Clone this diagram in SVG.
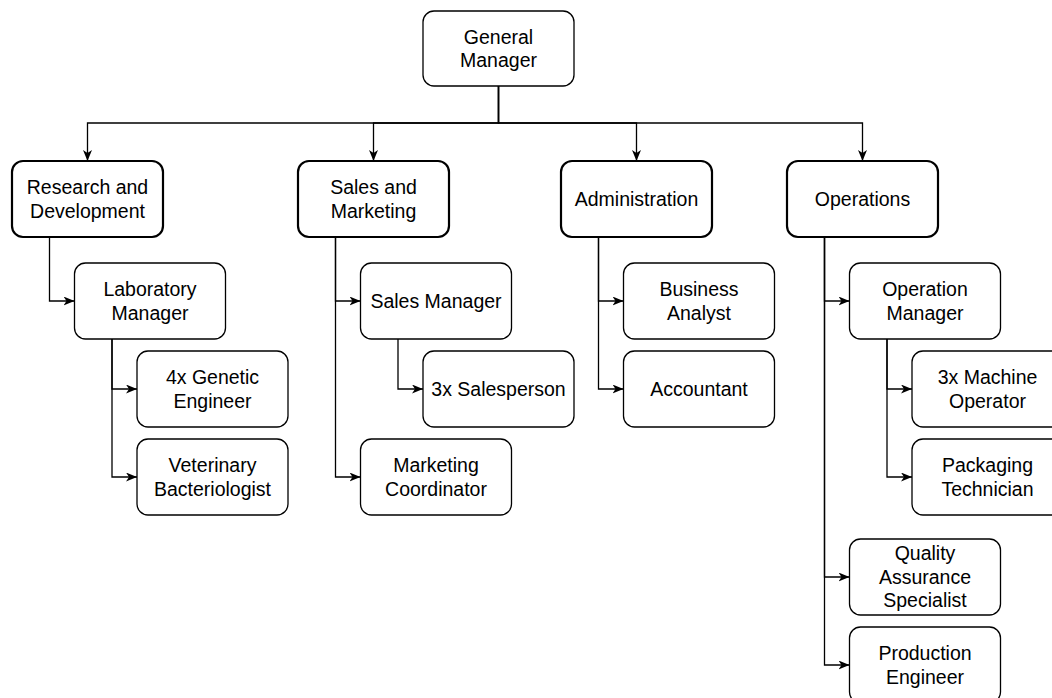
<svg xmlns="http://www.w3.org/2000/svg" width="1052" height="698" viewBox="0 0 1052 698">
<style>
.box{fill:#fff;stroke:#000;stroke-width:1.3}
.dept{fill:#fff;stroke:#000;stroke-width:2.2}
.edge{fill:none;stroke:#000;stroke-width:1.3}
text{font-family:"Liberation Sans",Arial,Helvetica,sans-serif;font-size:19.5px;fill:#000;text-anchor:middle}
</style>
<defs>
<marker id="arr" markerUnits="userSpaceOnUse" markerWidth="12" markerHeight="10" refX="11" refY="4.5" orient="auto">
<path d="M0,0 L11,4.5 L0,9 L3,4.5 Z" fill="#000"/>
</marker>
</defs>
<rect width="1052" height="698" fill="#fff"/>
<g id="connectors">
<path class="edge" d="M498.5,86 V123 H87.5 V161" marker-end="url(#arr)"/>
<path class="edge" d="M498.5,86 V123 H373.5 V161" marker-end="url(#arr)"/>
<path class="edge" d="M498.5,86 V123 H636.5 V161" marker-end="url(#arr)"/>
<path class="edge" d="M498.5,86 V123 H862.5 V161" marker-end="url(#arr)"/>
<path class="edge" d="M49.5,237 V301 H74.5" marker-end="url(#arr)"/>
<path class="edge" d="M112,339 V389 H137" marker-end="url(#arr)"/>
<path class="edge" d="M112,339 V477 H137" marker-end="url(#arr)"/>
<path class="edge" d="M335.5,237 V301 H360.5" marker-end="url(#arr)"/>
<path class="edge" d="M335.5,237 V477 H360.5" marker-end="url(#arr)"/>
<path class="edge" d="M398,339 V389 H423" marker-end="url(#arr)"/>
<path class="edge" d="M598.5,237 V301 H623.5" marker-end="url(#arr)"/>
<path class="edge" d="M598.5,237 V389 H623.5" marker-end="url(#arr)"/>
<path class="edge" d="M824.5,237 V301 H849.5" marker-end="url(#arr)"/>
<path class="edge" d="M824.5,237 V577 H849.5" marker-end="url(#arr)"/>
<path class="edge" d="M824.5,237 V665 H849.5" marker-end="url(#arr)"/>
<path class="edge" d="M887,339 V389 H912" marker-end="url(#arr)"/>
<path class="edge" d="M887,339 V477 H912" marker-end="url(#arr)"/>
</g>
<g id="general-manager"><rect class="box" x="423" y="11" width="151" height="75" rx="11"/><text x="498.5" y="43.6">General<tspan x="498.5" dy="23.4">Manager</tspan></text></g>
<g id="research"><rect class="dept" x="12" y="161" width="151" height="76" rx="11"/><text x="87.5" y="194.1">Research and<tspan x="87.5" dy="23.4">Development</tspan></text></g>
<g id="sales-marketing"><rect class="dept" x="298" y="161" width="151" height="76" rx="11"/><text x="373.5" y="194.1">Sales and<tspan x="373.5" dy="23.4">Marketing</tspan></text></g>
<g id="administration"><rect class="dept" x="561" y="161" width="151" height="76" rx="11"/><text x="636.5" y="205.8">Administration</text></g>
<g id="operations"><rect class="dept" x="787" y="161" width="151" height="76" rx="11"/><text x="862.5" y="205.8">Operations</text></g>
<g id="lab-manager"><rect class="box" x="74.5" y="263" width="151" height="76" rx="11"/><text x="150" y="296.1">Laboratory<tspan x="150" dy="23.4">Manager</tspan></text></g>
<g id="genetic-engineer"><rect class="box" x="137" y="351" width="151" height="76" rx="11"/><text x="212.5" y="384.1">4x Genetic<tspan x="212.5" dy="23.4">Engineer</tspan></text></g>
<g id="vet-bacteriologist"><rect class="box" x="137" y="439" width="151" height="76" rx="11"/><text x="212.5" y="472.1">Veterinary<tspan x="212.5" dy="23.4">Bacteriologist</tspan></text></g>
<g id="sales-manager"><rect class="box" x="360.5" y="263" width="151" height="76" rx="11"/><text x="436" y="307.8">Sales Manager</text></g>
<g id="salesperson"><rect class="box" x="423" y="351" width="151" height="76" rx="11"/><text x="498.5" y="395.8">3x Salesperson</text></g>
<g id="marketing-coordinator"><rect class="box" x="360.5" y="439" width="151" height="76" rx="11"/><text x="436" y="472.1">Marketing<tspan x="436" dy="23.4">Coordinator</tspan></text></g>
<g id="business-analyst"><rect class="box" x="623.5" y="263" width="151" height="76" rx="11"/><text x="699" y="296.1">Business<tspan x="699" dy="23.4">Analyst</tspan></text></g>
<g id="accountant"><rect class="box" x="623.5" y="351" width="151" height="76" rx="11"/><text x="699" y="395.8">Accountant</text></g>
<g id="operation-manager"><rect class="box" x="849.5" y="263" width="151" height="76" rx="11"/><text x="925" y="296.1">Operation<tspan x="925" dy="23.4">Manager</tspan></text></g>
<g id="machine-operator"><rect class="box" x="912" y="351" width="151" height="76" rx="11"/><text x="987.5" y="384.1">3x Machine<tspan x="987.5" dy="23.4">Operator</tspan></text></g>
<g id="packaging-technician"><rect class="box" x="912" y="439" width="151" height="76" rx="11"/><text x="987.5" y="472.1">Packaging<tspan x="987.5" dy="23.4">Technician</tspan></text></g>
<g id="quality-assurance"><rect class="box" x="849.5" y="539" width="151" height="76" rx="11"/><text x="925" y="560.4">Quality<tspan x="925" dy="23.4">Assurance</tspan><tspan x="925" dy="23.4">Specialist</tspan></text></g>
<g id="production-engineer"><rect class="box" x="849.5" y="627" width="151" height="76" rx="11"/><text x="925" y="660.1">Production<tspan x="925" dy="23.4">Engineer</tspan></text></g>
</svg>
